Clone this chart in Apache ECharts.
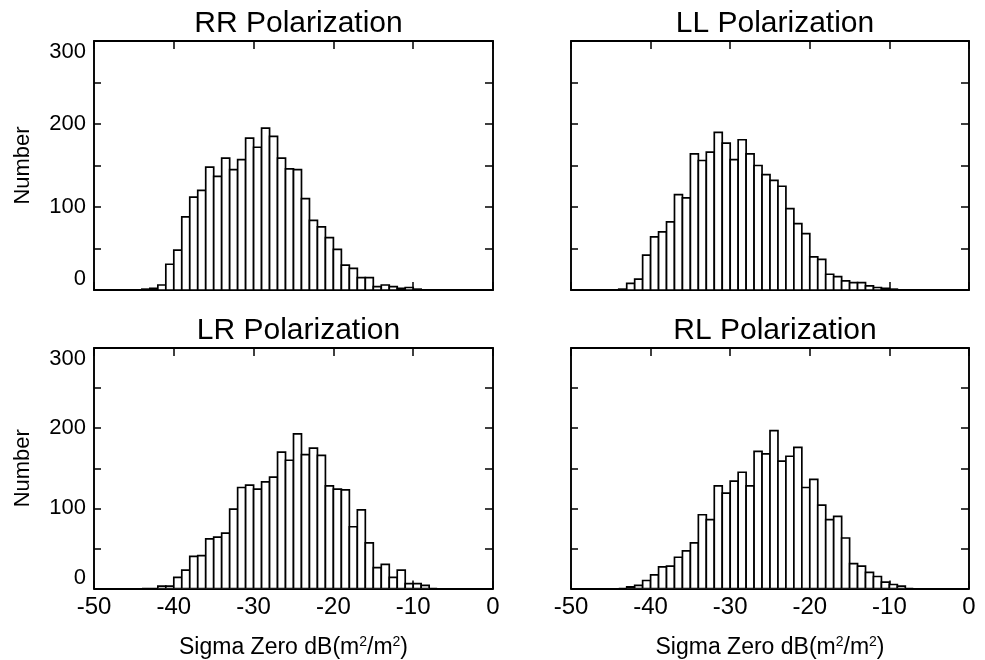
<!DOCTYPE html>
<html>
<head>
<meta charset="utf-8">
<script src="https://cdn.jsdelivr.net/npm/echarts@6/dist/echarts.min.js"></script>
<style>
  html, body { margin: 0; padding: 0; background: #fff; }
  #chart { width: 985px; height: 660px; }
</style>
</head>
<body>
<div id="chart"></div>
<script>
// left edges of the 1 dB histogram bins
const binLeft = [-44, -43, -42, -41, -40, -39, -38, -37, -36, -35, -34, -33, -32, -31, -30, -29, -28, -27,
  -26, -25, -24, -23, -22, -21, -20, -19, -18, -17, -16, -15, -14, -13, -12, -11, -10, -9, -8];
const binWidth = 1;

const rrCounts = [1, 2, 6, 31, 48, 88, 112, 120, 148, 137, 159, 145, 157, 183, 172, 195, 185, 159,
  146, 145, 110, 84, 76, 63, 49, 30, 26, 15, 15, 4, 6, 4, 2, 3, 1, 0, 0];
const llCounts = [1, 8, 13, 42, 64, 70, 82, 115, 111, 164, 156, 166, 190, 177, 157, 181, 164, 150,
  139, 132, 125, 98, 80, 68, 40, 37, 19, 16, 11, 9, 9, 5, 3, 2, 1, 0, 0];
const lrCounts = [0, 0, 3, 3, 14, 23, 40, 41, 62, 64, 69, 99, 126, 129, 124, 133, 139, 170,
  160, 193, 167, 175, 166, 128, 124, 123, 77, 98, 57, 26, 30, 14, 23, 6, 6, 4, 0];
const rlCounts = [0, 2, 4, 10, 17, 27, 28, 39, 47, 57, 92, 86, 128, 119, 134, 145, 128, 171,
  168, 197, 159, 165, 176, 126, 136, 104, 86, 90, 63, 31, 28, 20, 15, 8, 5, 3, 0];

const panelTitles = ['RR Polarization', 'LL Polarization', 'LR Polarization', 'RL Polarization'];
const panelCounts = [rrCounts, llCounts, lrCounts, rlCounts];

const xMin = -50, xMax = 0, xStep = 10;
const yMin = 0, yMax = 300, yStep = 100;
const yLabel = 'Number';
const xLabel = 'Sigma Zero dB(m{sup|2}/m{sup|2})';

// panel boxes: [left, top, width, height]
const boxes = [
  [94, 41, 399, 249],
  [571, 41, 398, 249],
  [94, 348, 399, 249],
  [571, 348, 398, 249]
];

const FONT = '"Liberation Sans", Arial, Helvetica, sans-serif';
const lineStyle = { color: '#000', width: 1.9 };
const tickStyle = { color: '#000', width: 1.5 };

const chart = echarts.init(document.getElementById('chart'));

const grids = [], xAxes = [], yAxes = [], series = [], titles = [];

boxes.forEach((b, i) => {
  const isLeft = i % 2 === 0;
  const isBottom = i >= 2;
  grids.push({ left: b[0], top: b[1], width: b[2], height: b[3], containLabel: false });

  titles.push({
    text: panelTitles[i],
    left: b[0] + b[2] / 2,
    top: b[1] - 37,
    textAlign: 'center',
    textStyle: { fontFamily: FONT, fontSize: 30, fontWeight: 'normal', color: '#000' }
  });

  // bottom x axis
  xAxes.push({
    gridIndex: i, type: 'value', position: 'bottom',
    min: xMin, max: xMax, interval: xStep,
    axisLine: { onZero: false, lineStyle },
    axisTick: { inside: true, length: 8, lineStyle: tickStyle },
    splitLine: { show: false },
    axisLabel: {
      show: isBottom, color: '#000', fontFamily: FONT, fontSize: 24, margin: 7,
      showMinLabel: true, showMaxLabel: true
    },
    name: isBottom ? xLabel : '',
    nameLocation: 'middle', nameGap: 47,
    nameTextStyle: {
      color: '#000', fontFamily: FONT, fontSize: 23,
      rich: { sup: { fontFamily: FONT, fontSize: 14, color: '#000', verticalAlign: 'top', padding: [0, 0, 10, 0] } }
    }
  });
  // top x axis (ticks only)
  xAxes.push({
    gridIndex: i, type: 'value', position: 'top',
    min: xMin, max: xMax, interval: xStep,
    axisLine: { onZero: false, lineStyle },
    axisTick: { inside: true, length: 8, lineStyle: tickStyle },
    axisLabel: { show: false },
    splitLine: { show: false }
  });
  // left y axis
  yAxes.push({
    gridIndex: i, type: 'value', position: 'left',
    min: yMin, max: yMax, interval: yStep,
    axisLine: { show: true, onZero: false, lineStyle },
    axisTick: { show: true, inside: true, length: 7, lineStyle: tickStyle },
    minorTick: { show: true, splitNumber: 2, length: 7, lineStyle: tickStyle },
    splitLine: { show: false },
    axisLabel: {
      show: isLeft, color: '#000', fontFamily: FONT, fontSize: 22, margin: 8,
      verticalAlignMinLabel: 'bottom', verticalAlignMaxLabel: 'top'
    },
    name: isLeft ? yLabel : '',
    nameLocation: 'middle', nameGap: 60, nameRotate: 90,
    nameTextStyle: { color: '#000', fontFamily: FONT, fontSize: 22 }
  });
  // right y axis (ticks only)
  yAxes.push({
    gridIndex: i, type: 'value', position: 'right',
    min: yMin, max: yMax, interval: yStep,
    axisLine: { show: true, onZero: false, lineStyle },
    axisTick: { show: true, inside: true, length: 8, lineStyle: tickStyle },
    minorTick: { show: true, splitNumber: 2, length: 8, lineStyle: tickStyle },
    splitLine: { show: false },
    axisLabel: { show: false }
  });

  series.push({
    type: 'custom',
    name: panelTitles[i],
    xAxisIndex: 2 * i,
    yAxisIndex: 2 * i,
    encode: { x: [0, 1], y: 2 },
    clip: true,
    data: binLeft.map((x0, k) => [x0, x0 + binWidth, panelCounts[i][k]]),
    renderItem: (params, api) => {
      const topLeft = api.coord([api.value(0), api.value(2)]);
      const bottomRight = api.coord([api.value(1), 0]);
      return {
        type: 'rect',
        shape: {
          x: topLeft[0], y: topLeft[1],
          width: bottomRight[0] - topLeft[0],
          height: bottomRight[1] - topLeft[1]
        },
        style: { fill: '#fff', stroke: '#000', lineWidth: 1.7 }
      };
    }
  });
});

chart.setOption({
  animation: false,
  backgroundColor: '#fff',
  title: titles,
  grid: grids,
  xAxis: xAxes,
  yAxis: yAxes,
  series: series
});
</script>
</body>
</html>
